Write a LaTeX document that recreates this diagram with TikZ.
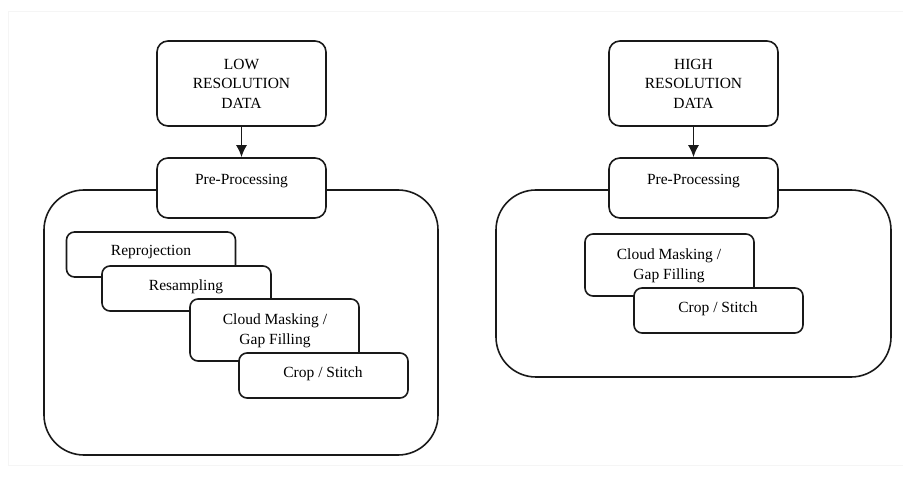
\documentclass[tikz,border=0pt]{standalone}
\usepackage{fontspec}
\setmainfont{Liberation Serif}
\usetikzlibrary{arrows.meta}
\begin{document}
\begin{tikzpicture}[x=1pt,y=-1pt,
  every node/.style={font=\fontsize{15.5}{19.5}\selectfont, text=black, inner sep=0pt},
  outline/.style={draw=black!90, line width=1.6pt},
  stepbox/.style={outline, fill=white, rounded corners=8pt, minimum width=169pt, minimum height=45pt},
  tallstep/.style={stepbox, minimum height=62pt},
  databox/.style={outline, fill=white, rounded corners=11pt, minimum width=169pt},
  container/.style={outline, rounded corners=40pt},
  flow/.style={draw=black!90, line width=1.6pt, -{Latex[length=12pt,width=11pt]}}
]
\useasboundingbox (0,0) rectangle (903,494);
% faint page frame
\draw[black!4, line width=0.8pt] (8,11) rectangle (903,465);

% ---------------- low resolution branch ----------------
\path[container] (44,190) rectangle (438,455);
\node[databox, minimum height=85pt, align=center] (lowdata) at (241.5,83.5) {LOW\\RESOLUTION\\DATA};
\node[databox, minimum height=60pt] (lowpre) at (241.5,188) {};
\node (lowpretxt) at (241.5,181) {Pre-Processing};
\draw[flow] (lowdata) -- (lowpre);

\node[stepbox] (reproj) at (151,254.5) {};
\node (reprojtxt) at (151,252) {Reprojection};
\node[stepbox] (resamp) at (186.5,288.5) {};
\node (resamptxt) at (186,287) {Resampling};
\node[tallstep] (lowcloud) at (274.5,330) {};
\node[align=center] (lowcloudtxt) at (275,331) {Cloud Masking /\\Gap Filling};
\node[stepbox] (lowcrop) at (323.5,375.5) {};
\node (lowcroptxt) at (323,374) {Crop / Stitch};

% ---------------- high resolution branch ----------------
\path[container] (496,190) rectangle (891,377);
\node[databox, minimum height=85pt, align=center] (highdata) at (693.5,83.5) {HIGH\\RESOLUTION\\DATA};
\node[databox, minimum height=60pt] (highpre) at (693.5,188) {};
\node (highpretxt) at (693.5,181) {Pre-Processing};
\draw[flow] (highdata) -- (highpre);

\node[tallstep] (highcloud) at (669.5,265) {};
\node[align=center] (highcloudtxt) at (669,266) {Cloud Masking /\\Gap Filling};
\node[stepbox] (highcrop) at (718.5,310.5) {};
\node (highcroptxt) at (718,309) {Crop / Stitch};
\end{tikzpicture}
\end{document}
